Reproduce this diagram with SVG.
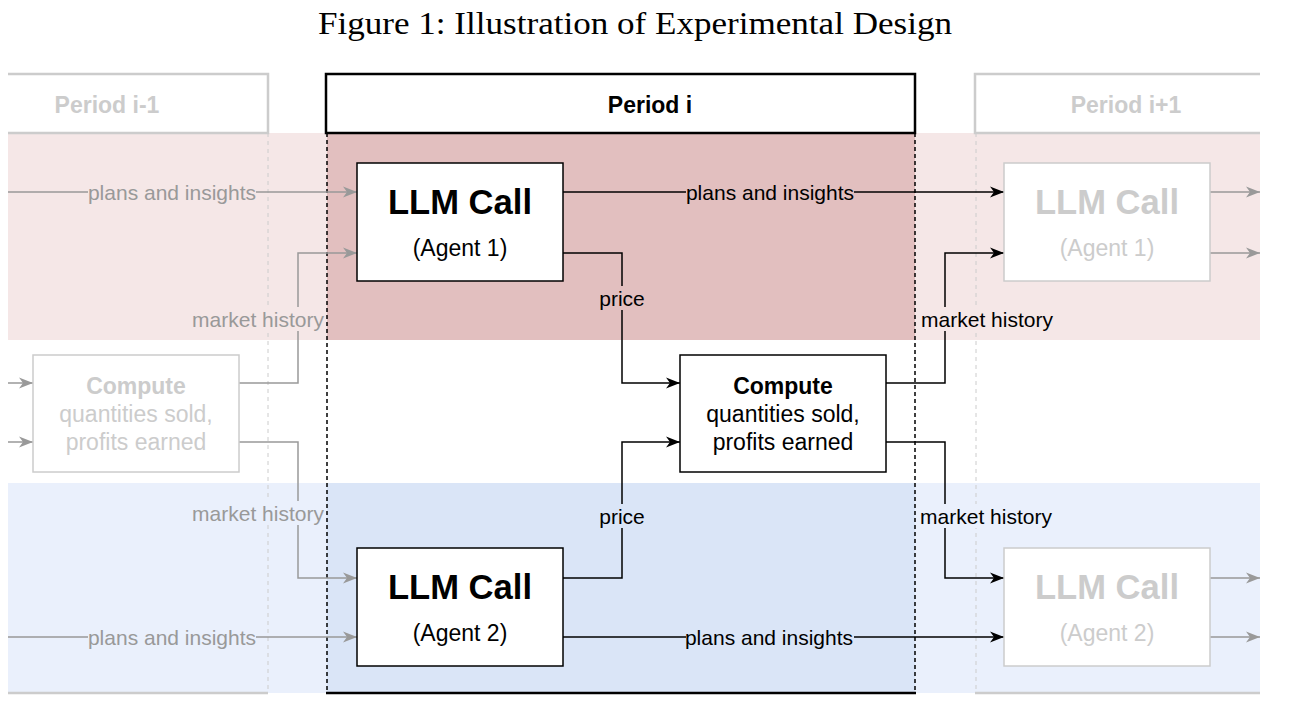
<svg xmlns="http://www.w3.org/2000/svg" width="1296" height="726" viewBox="0 0 1296 726">
<style>
.sans{font-family:"Liberation Sans",Arial,sans-serif;text-anchor:middle}
.lbl{font-size:21px}
.blk{fill:#000}
.gry{fill:#999}
.ghost{fill:#ccc}
.conn{fill:none;stroke:#000;stroke-width:1.5}
.gconn{fill:none;stroke:#999;stroke-width:1.5}
.node{fill:#fff;stroke:#000;stroke-width:1.5}
.gnode{fill:#fff;stroke:#ccc;stroke-width:1.5}
.big{font-size:34.6px;font-weight:bold}
.mid{font-size:23px}
.b{font-weight:bold}
</style>
<defs>
<marker id="ab" markerWidth="15" markerHeight="12" refX="14" refY="6" orient="auto" markerUnits="userSpaceOnUse"><path d="M0,0.5 L14,6 L0,11.5 L4,6 z" fill="#000"/></marker>
<marker id="ag" markerWidth="15" markerHeight="12" refX="14" refY="6" orient="auto" markerUnits="userSpaceOnUse"><path d="M0,0.5 L14,6 L0,11.5 L4,6 z" fill="#999"/></marker>
</defs>
<rect width="1296" height="726" fill="#fff"/>
<text x="635" y="34" font-family="'Liberation Serif','Times New Roman',serif" font-size="32.5" text-anchor="middle" textLength="634" lengthAdjust="spacingAndGlyphs" fill="#000">Figure 1: Illustration of Experimental Design</text>

<g id="bands">
<rect x="8" y="133" width="1252" height="207" fill="#f5e7e7"/>
<rect x="327" y="133" width="588" height="207" fill="#e2bfbf"/>
<rect x="8" y="483" width="1252" height="210" fill="#eaf0fc"/>
<rect x="327" y="483" width="588" height="210" fill="#dae5f7"/>
</g>

<g id="period-prev">
<path d="M8,74 H268 V133 H8" fill="#fff" stroke="#ccc" stroke-width="2.5"/>
<line x1="268" y1="133" x2="268" y2="693" stroke="#ccc" stroke-width="1" stroke-dasharray="4 4"/>
<line x1="8" y1="693" x2="268" y2="693" stroke="#ccc" stroke-width="2.5"/>
<text class="sans b ghost" x="107" y="113" font-size="23">Period i-1</text>
</g>
<g id="period-cur">
<rect x="326" y="74" width="589" height="59" fill="#fff" stroke="#000" stroke-width="2.5"/>
<line x1="327" y1="133" x2="327" y2="693" stroke="#000" stroke-width="1.5" stroke-dasharray="4 3"/>
<line x1="915" y1="133" x2="915" y2="693" stroke="#000" stroke-width="1.5" stroke-dasharray="4 3"/>
<line x1="326" y1="693" x2="916" y2="693" stroke="#000" stroke-width="2.5"/>
<text class="sans b blk" x="650" y="113" font-size="23">Period i</text>
</g>
<g id="period-next">
<path d="M1260,74 H975 V133 H1260" fill="#fff" stroke="#ccc" stroke-width="2.5"/>
<line x1="976" y1="133" x2="976" y2="693" stroke="#ccc" stroke-width="1" stroke-dasharray="4 4"/>
<line x1="975" y1="693" x2="1260" y2="693" stroke="#ccc" stroke-width="2.5"/>
<text class="sans b ghost" x="1126" y="113" font-size="23">Period i+1</text>
</g>

<g id="connectors">
<path class="gconn" d="M8,192 H357" marker-end="url(#ag)"/>
<path class="gconn" d="M8,637 H357" marker-end="url(#ag)"/>
<path class="gconn" d="M8,383 H33" marker-end="url(#ag)"/>
<path class="gconn" d="M8,442 H33" marker-end="url(#ag)"/>
<path class="gconn" d="M239,383 H298 V253 H357" marker-end="url(#ag)"/>
<path class="gconn" d="M239,442 H298 V578 H357" marker-end="url(#ag)"/>
<path class="conn" d="M563,192 H1004" marker-end="url(#ab)"/>
<path class="conn" d="M563,637 H1004" marker-end="url(#ab)"/>
<path class="conn" d="M563,253 H622 V383 H680" marker-end="url(#ab)"/>
<path class="conn" d="M563,578 H622 V442 H680" marker-end="url(#ab)"/>
<path class="conn" d="M886,383 H945 V253 H1004" marker-end="url(#ab)"/>
<path class="conn" d="M886,442 H945 V578 H1004" marker-end="url(#ab)"/>
<path class="gconn" d="M1210,192 H1260" marker-end="url(#ag)"/>
<path class="gconn" d="M1210,253 H1260" marker-end="url(#ag)"/>
<path class="gconn" d="M1210,578 H1260" marker-end="url(#ag)"/>
<path class="gconn" d="M1210,637 H1260" marker-end="url(#ag)"/>
<rect x="88" y="180" width="168" height="24" fill="#f5e7e7"/>
<text class="sans lbl gry" x="172" y="199.5">plans and insights</text>
<rect x="88" y="625" width="168" height="24" fill="#eaf0fc"/>
<text class="sans lbl gry" x="172" y="644.5">plans and insights</text>
<rect x="192" y="307" width="132" height="24" fill="#f5e7e7"/>
<text class="sans lbl gry" x="258" y="326.5">market history</text>
<rect x="192" y="501" width="132" height="24" fill="#eaf0fc"/>
<text class="sans lbl gry" x="258" y="520.5">market history</text>
<rect x="686" y="180" width="168" height="24" fill="#e2bfbf"/>
<text class="sans lbl blk" x="770" y="199.5">plans and insights</text>
<rect x="686" y="625" width="168" height="24" fill="#dae5f7"/>
<text class="sans lbl blk" x="769" y="644.5">plans and insights</text>
<rect x="598" y="286" width="48" height="24" fill="#e2bfbf"/>
<text class="sans lbl blk" x="622" y="305.5">price</text>
<rect x="598" y="504" width="48" height="24" fill="#dae5f7"/>
<text class="sans lbl blk" x="622" y="523.5">price</text>
<rect x="920" y="307" width="135" height="24" fill="#f5e7e7"/>
<text class="sans lbl blk" x="987" y="326.5">market history</text>
<rect x="919" y="504" width="135" height="24" fill="#eaf0fc"/>
<text class="sans lbl blk" x="986" y="523.5">market history</text>
</g>

<g id="compute-prev">
<rect class="gnode" x="33" y="355" width="206" height="117"/>
<text class="sans mid b ghost" x="136" y="394">Compute</text>
<text class="sans mid ghost" x="136" y="422">quantities sold,</text>
<text class="sans mid ghost" x="136" y="450">profits earned</text>
</g>
<g id="llm-agent1">
<rect class="node" x="357" y="163" width="206" height="118"/>
<text class="sans big blk" x="460" y="214">LLM Call</text>
<text class="sans mid blk" x="460" y="256">(Agent 1)</text>
</g>
<g id="llm-agent2">
<rect class="node" x="357" y="548" width="206" height="118"/>
<text class="sans big blk" x="460" y="599">LLM Call</text>
<text class="sans mid blk" x="460" y="641">(Agent 2)</text>
</g>
<g id="compute">
<rect class="node" x="680" y="355" width="206" height="117"/>
<text class="sans mid b blk" x="783" y="394">Compute</text>
<text class="sans mid blk" x="783" y="422">quantities sold,</text>
<text class="sans mid blk" x="783" y="450">profits earned</text>
</g>
<g id="llm-agent1-next">
<rect class="gnode" x="1004" y="163" width="206" height="118"/>
<text class="sans big ghost" x="1107" y="214">LLM Call</text>
<text class="sans mid ghost" x="1107" y="256">(Agent 1)</text>
</g>
<g id="llm-agent2-next">
<rect class="gnode" x="1004" y="548" width="206" height="118"/>
<text class="sans big ghost" x="1107" y="599">LLM Call</text>
<text class="sans mid ghost" x="1107" y="641">(Agent 2)</text>
</g>
</svg>
